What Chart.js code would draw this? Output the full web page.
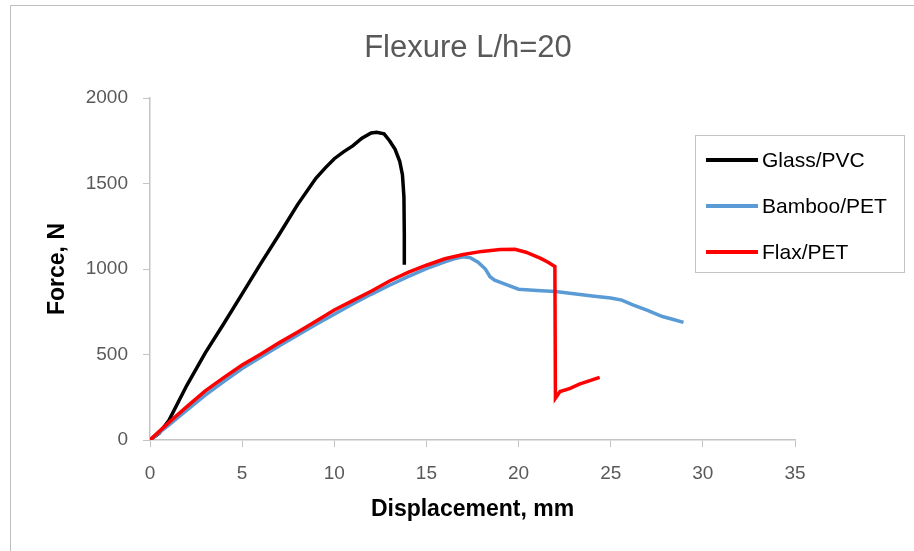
<!DOCTYPE html>
<html>
<head>
<meta charset="utf-8">
<script src="https://cdn.jsdelivr.net/npm/chart.js@4"></script>
<style>
  body { margin: 0; background: #fff; }
  #wrap { position: relative; width: 914px; height: 551px; }
  #legend {
    position: absolute; left: 695px; top: 135px; width: 210px; height: 138px;
    border: 1px solid #c4c4c4; box-sizing: border-box;
    font-family: "Liberation Sans", Arial, sans-serif; font-size: 21px; color: #000;
  }
  .row { position: absolute; left: 0; height: 24px; display: flex; align-items: center; }
  .swatch { width: 52px; height: 4px; margin-left: 10px; margin-right: 4px; }
</style>
</head>
<body>
<div id="wrap">
  <canvas id="chart" width="914" height="551"></canvas>
  <div id="legend"></div>
</div>
<script>
// Glass/PVC
const glassX = [0, 0.5, 1, 2, 3, 4, 5, 6, 7, 8, 9, 9.5, 10, 10.5, 11, 11.5, 12, 12.3, 12.7, 13, 13.3, 13.55, 13.7, 13.78, 13.8, 13.8];
const glassY = [0, 40, 110, 320, 510, 680, 855, 1030, 1200, 1375, 1530, 1590, 1645, 1685, 1720, 1765, 1795, 1800, 1790, 1750, 1700, 1630, 1550, 1420, 1200, 1025];

// Bamboo/PET
const bambooX = [0, 1, 2, 3, 4, 5, 6, 7, 8, 9, 10, 11, 12, 13, 14, 15, 16, 16.5, 17, 17.4, 17.8, 18.2, 18.45, 18.7, 19.3, 20, 21, 22, 23, 24, 25, 25.6, 26.2, 27, 27.8, 28.4, 28.95];
const bambooY = [0, 85, 175, 262, 342, 418, 484, 550, 612, 675, 735, 795, 852, 905, 955, 1002, 1042, 1060, 1072, 1065, 1040, 1000, 955, 935, 910, 882, 874, 868, 855, 842, 830, 818, 790, 758, 722, 705, 688];

// Flax/PET
const flaxX = [0, 1, 2, 3, 4, 5, 6, 7, 8, 9, 10, 11, 12, 13, 14, 15, 16, 17, 18, 19, 19.8, 20.4, 21.2, 21.6, 21.97, 22.0, 22.25, 22.8, 23.3, 24.4];
const flaxY = [0, 100, 195, 287, 365, 438, 502, 568, 630, 695, 760, 815, 870, 930, 980, 1022, 1060, 1085, 1103, 1114, 1115, 1098, 1062, 1040, 1015, 244, 283, 302, 327, 366];

const seriesNames = ['Glass/PVC', 'Bamboo/PET', 'Flax/PET'];
const seriesColors = ['#000000', '#5B9BD5', '#FF0000'];
const xTicks = [0, 5, 10, 15, 20, 25, 30, 35];
const yTicks = [0, 500, 1000, 1500, 2000];
const chartTitle = 'Flexure L/h=20';

function pts(xs, ys) {
  return xs.map((x, i) => ({ x: x, y: ys[i] }));
}

const allData = [pts(glassX, glassY), pts(bambooX, bambooY), pts(flaxX, flaxY)];
const drawOrder = [2, 1, 0];

// white background, outer frame and the title centred on the page
const frame = {
  id: 'frame',
  beforeDraw(chart) {
    const c = chart.ctx;
    c.save();
    c.fillStyle = '#fff';
    c.fillRect(0, 0, chart.width, chart.height);
    c.strokeStyle = '#bfbfbf';
    c.lineWidth = 1;
    c.beginPath();
    c.moveTo(10.5, chart.height);
    c.lineTo(10.5, 5.5);
    c.lineTo(chart.width, 5.5);
    c.stroke();
    c.fillStyle = '#595959';
    c.font = '31px "Liberation Sans", Arial, sans-serif';
    c.textAlign = 'center';
    c.textBaseline = 'middle';
    c.fillText(chartTitle, 468, 48);
    c.restore();
  }
};

const tickFont = { family: '"Liberation Sans", Arial, sans-serif', size: 19 };
const axisColor = '#c4c4c4';

new Chart(document.getElementById('chart'), {
  type: 'line',
  data: {
    datasets: seriesNames.map((name, i) => ({
      label: name,
      data: allData[i],
      borderColor: seriesColors[i],
      backgroundColor: seriesColors[i],
      borderWidth: 3.5,
      pointRadius: 0,
      tension: 0,
      fill: false,
      order: drawOrder[i]
    }))
  },
  options: {
    responsive: false,
    animation: false,
    events: [],
    layout: { padding: { left: 10, right: 119, top: 98, bottom: 0 } },
    plugins: {
      legend: { display: false },
      tooltip: { enabled: false },
      title: { display: false }
    },
    scales: {
      x: {
        type: 'linear',
        min: 0,
        max: 35,
        afterBuildTicks: s => { s.ticks = xTicks.map(v => ({ value: v })); },
        afterFit: s => { s.height = 111; },
        ticks: { color: '#595959', font: tickFont, padding: 15, maxRotation: 0, callback: v => String(v) },
        grid: { drawOnChartArea: false, drawTicks: true, tickLength: 7, color: axisColor },
        border: { color: axisColor, width: 1.5 },
        title: {
          display: true,
          text: 'Displacement, mm',
          color: '#000',
          font: { family: '"Liberation Sans", Arial, sans-serif', size: 23, weight: 'bold', lineHeight: 1.2 },
          padding: { top: 0, bottom: 28 }
        }
      },
      y: {
        min: 0,
        max: 2000,
        afterBuildTicks: s => { s.ticks = yTicks.map(v => ({ value: v })); },
        afterFit: s => { s.width = 140; },
        ticks: { color: '#595959', font: tickFont, padding: 15, callback: v => String(v) },
        grid: { drawOnChartArea: false, drawTicks: true, tickLength: 7, color: axisColor },
        border: { color: axisColor, width: 1.5 },
        title: {
          display: true,
          text: 'Force, N',
          color: '#000',
          font: { family: '"Liberation Sans", Arial, sans-serif', size: 23, weight: 'bold', lineHeight: 1.2 },
          padding: { top: 34, bottom: 0 }
        }
      }
    }
  },
  plugins: [frame]
});

// legend built from the series arrays
const legend = document.getElementById('legend');
const rowCenters = [24, 70, 116];
seriesNames.forEach((name, i) => {
  const row = document.createElement('div');
  row.className = 'row';
  row.style.top = (rowCenters[i] - 12) + 'px';
  const sw = document.createElement('div');
  sw.className = 'swatch';
  sw.style.background = seriesColors[i];
  const label = document.createElement('span');
  label.textContent = name;
  row.appendChild(sw);
  row.appendChild(label);
  legend.appendChild(row);
});
</script>
</body>
</html>
